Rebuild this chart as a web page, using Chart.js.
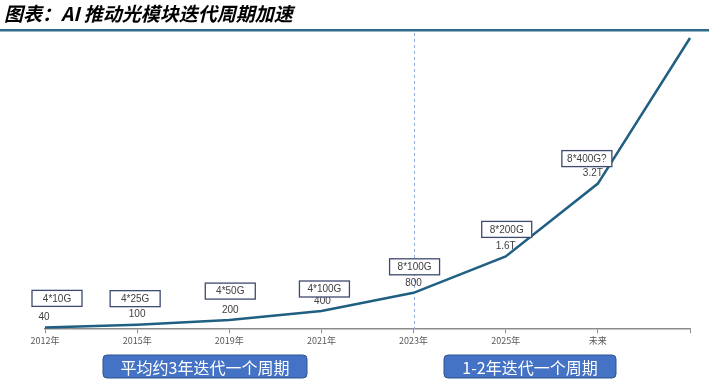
<!DOCTYPE html>
<html><head><meta charset="utf-8">
<script src="https://cdn.jsdelivr.net/npm/chart.js@4.4.1/dist/chart.umd.min.js"></script>
<style>html,body{margin:0;padding:0;background:#fff;}#wrap{width:709px;height:388px;position:relative;}</style>
</head><body><div id="wrap"><canvas id="c" width="709" height="388"></canvas></div>
<script>
const categories = ['2012年','2015年','2019年','2021年','2023年','2025年','未来',''];
const bandwidth = [40, 100, 200, 400, 800, 1600, 3200, 6400];
const valueLabels = ['40','100','200','400','800','1.6T','3.2T',''];
const moduleLabels = ['4*10G','4*25G','4*50G','4*100G','8*100G','8*200G','8*400G?',''];
const titleText = '图表：AI 推动光模块迭代周期加速';
const bannerTexts = ['平均约3年迭代一个周期','1-2年迭代一个周期'];
const highlightCategory = '2023年';

const boxDx = [12, -2, 1, 3, 1, 1, -11];
const boxDy = [-19, -16, -19, -12, -16, -17, -15];
const labelDx = [-1, 0, 1, 1, 0, 0, -5];

const overlay = {
  id: 'overlay',
  beforeDatasetsDraw(chart) {
    const ctx = chart.ctx, xs = chart.scales.x, a = chart.chartArea;
    const x = xs.getPixelForValue(categories.indexOf(highlightCategory));
    ctx.save();
    ctx.strokeStyle = '#8FAADC'; ctx.lineWidth = 1; ctx.setLineDash([3,3]);
    ctx.beginPath(); ctx.moveTo(Math.round(x)+0.5, 33); ctx.lineTo(Math.round(x)+0.5, a.bottom); ctx.stroke();
    ctx.restore();
  },
  afterDraw(chart) {
    const ctx = chart.ctx, meta = chart.getDatasetMeta(0);
    ctx.save();
    // title
    ctx.fillStyle = '#000';
    ctx.font = 'italic bold 19px "Noto Sans CJK SC", sans-serif';
    ctx.textBaseline = 'middle'; ctx.textAlign = 'left';
    ctx.fillText(titleText, 4, 14);
    ctx.fillStyle = '#2E6A8A';
    ctx.fillRect(0, 29, 709, 2.5);
    // labels
    ctx.font = '10px "Liberation Sans", Arial, sans-serif';
    ctx.textAlign = 'center';
    meta.data.forEach((pt, i) => {
      if (!valueLabels[i]) return;
      const ly = pt.y - 10;
      ctx.fillStyle = '#404040';
      ctx.fillText(valueLabels[i], pt.x + labelDx[i], ly);
      const bx = pt.x + boxDx[i], by = ly + boxDy[i];
      ctx.fillStyle = '#fff';
      ctx.fillRect(bx - 25, by - 8, 50, 16);
      ctx.strokeStyle = '#3E4B6E'; ctx.lineWidth = 1.3;
      ctx.strokeRect(bx - 25, by - 8, 50, 16);
      ctx.fillStyle = '#404040';
      ctx.fillText(moduleLabels[i], bx, by + 0.5);
    });
    // banners
    const banners = [[103, 355, 204, 23], [444, 355, 172, 23]];
    ctx.font = '16px "Noto Sans CJK SC", sans-serif';
    banners.forEach((b, i) => {
      const [x, y, w, h] = b;
      ctx.beginPath();
      ctx.roundRect(x, y, w, h, 4);
      ctx.fillStyle = '#4472C4'; ctx.fill();
      ctx.strokeStyle = '#2F528F'; ctx.lineWidth = 1; ctx.stroke();
      ctx.fillStyle = '#fff';
      ctx.fillText(bannerTexts[i], x + w / 2, y + h / 2 + 1);
    });
    ctx.restore();
  }
};

new Chart(document.getElementById('c'), {
  type: 'line',
  data: { labels: categories, datasets: [{ data: bandwidth, borderColor: '#1F5F82', borderWidth: 2.5, pointRadius: 0, tension: 0, clip: false, fill: false }] },
  options: {
    responsive: false, animation: false, devicePixelRatio: 1,
    layout: { padding: { left: 45, right: 19, top: 38, bottom: 40 } },
    plugins: { legend: { display: false }, tooltip: { enabled: false } },
    scales: {
      x: {
        offset: false,
        border: { color: '#8C8C8C', width: 1.5 },
        grid: { display: true, drawOnChartArea: false, drawTicks: true, tickLength: 4, color: '#8C8C8C' },
        ticks: { color: '#595959', font: { size: 9, family: '"Noto Sans CJK SC", sans-serif' }, padding: 2, maxRotation: 0, autoSkip: false }
      },
      y: { display: false, min: 0, max: 6400 }
    }
  },
  plugins: [overlay]
});
</script></body></html>
